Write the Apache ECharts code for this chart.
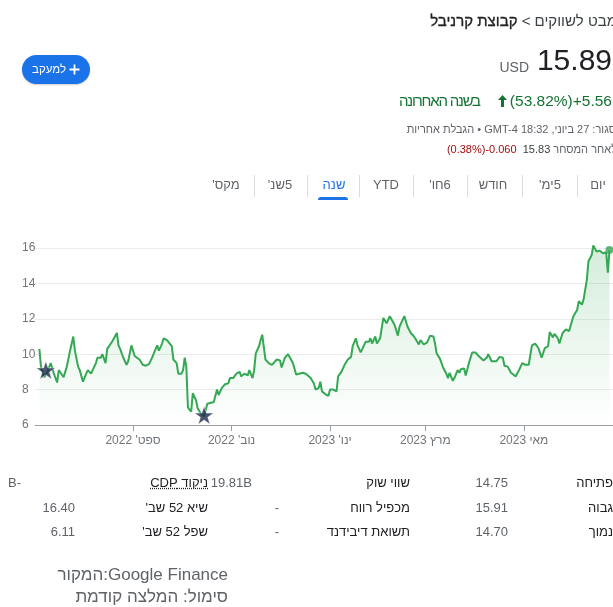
<!DOCTYPE html>
<html lang="he">
<head>
<meta charset="utf-8">
<script src="https://cdn.jsdelivr.net/npm/echarts@6/dist/echarts.min.js"></script>
<style>
html,body{margin:0;padding:0;background:#fff;}
body{width:613px;height:607px;overflow:hidden;position:relative;font-family:Arial,"Liberation Sans",sans-serif;}
#chart{position:absolute;left:0;top:0;width:613px;height:607px;}
.t{position:absolute;white-space:nowrap;}
.rtl{direction:rtl;}
.ltr{direction:ltr;}
.sep{position:absolute;top:175px;width:1px;height:22px;background:#dadce0;}
.tab{position:absolute;top:177px;width:80px;text-align:center;font-size:13px;line-height:16px;color:#5f6368;direction:rtl;white-space:nowrap;}
.lab{position:absolute;font-size:13px;line-height:20px;height:20px;color:#202124;direction:rtl;white-space:nowrap;}
.val{position:absolute;font-size:13px;line-height:20px;height:20px;color:#5f6368;direction:ltr;white-space:nowrap;}
</style>
</head>
<body>
<div id="chart"></div>

<!-- header -->
<div class="t rtl" style="right:-4px;top:12px;font-size:15px;line-height:18px;color:#3c4043">מבט לשווקים &gt; <span style="color:#202124;-webkit-text-stroke:0.3px #202124">קבוצת קרניבל</span></div>

<div style="position:absolute;left:22px;top:55px;width:68px;height:29px;border-radius:15px;background:#1a73e8;box-shadow:0 1px 2px rgba(0,0,0,0.2);">
  <span class="t" style="left:10px;top:7px;font-size:11.5px;line-height:14px;color:#fff;direction:rtl">למעקב</span>
  <svg style="position:absolute;left:47px;top:9px" width="11" height="11" viewBox="0 0 11 11"><path d="M5.5 0.5V10.5M0.5 5.5H10.5" stroke="#fff" stroke-width="1.8"/></svg>
</div>

<div class="t" style="right:1px;top:45px;font-size:30px;line-height:30px;color:#202124">15.89</div>
<div class="t" style="right:84px;top:60px;font-size:14px;line-height:14px;color:#5f6368">USD</div>

<div class="t ltr" style="right:1px;top:93px;font-size:15.5px;line-height:16px;color:#137333;display:flex;align-items:center">
  <span style="direction:rtl;font-size:15px;letter-spacing:-1.2px">בשנה האחרונה</span>
  <svg style="margin-left:18px;margin-right:3px" width="9" height="12" viewBox="0 0 9 12"><path d="M4.5 0L9 5H6V12H3V5H0Z" fill="#137333"/></svg>
  <span>(53.82%)</span><span>+5.56</span>
</div>

<div class="t rtl" style="right:-3px;top:124px;font-size:11px;line-height:11px;color:#5f6368">סגור: 27 ביוני, 18:32 GMT-4 • הגבלת אחריות</div>

<div class="t ltr" style="right:-4px;top:144px;font-size:11px;line-height:11px;color:#5f6368">
  <span style="color:#a50e0e">(0.38%)-0.060</span>&nbsp;&nbsp;<span style="color:#3c4043">15.83</span>&nbsp;<span style="direction:rtl">לאחר המסחר</span>
</div>

<!-- tabs -->
<div class="tab" style="left:186px">מקס'</div>
<div class="sep" style="left:254px"></div>
<div class="tab" style="left:240px">5שנ'</div>
<div class="sep" style="left:307px"></div>
<div class="tab" style="left:294px;color:#1a73e8">שנה</div>
<div class="sep" style="left:359px"></div>
<div class="tab" style="left:346px;direction:ltr">YTD</div>
<div class="sep" style="left:413px"></div>
<div class="tab" style="left:400px">6חו'</div>
<div class="sep" style="left:467px"></div>
<div class="tab" style="left:453px">חודש</div>
<div class="sep" style="left:522px"></div>
<div class="tab" style="left:510px">5ימ'</div>
<div class="sep" style="left:577px"></div>
<div class="tab" style="left:558px">יום</div>
<div style="position:absolute;left:318px;top:197px;width:30px;height:3px;background:#1a73e8;border-radius:3px 3px 0 0"></div>

<!-- stats table -->
<div class="lab" style="right:0px;top:473px">פתיחה</div>
<div class="val" style="right:105px;top:473px">14.75</div>
<div class="lab" style="right:203px;top:473px">שווי שוק</div>
<div class="val" style="right:361px;top:473px">19.81B</div>
<div class="lab" style="right:405px;top:473px;text-decoration:underline dotted">ניקוד CDP</div>
<div class="val" style="left:8px;top:473px">B-</div>

<div class="lab" style="right:0px;top:498px">גבוה</div>
<div class="val" style="right:105px;top:498px">15.91</div>
<div class="lab" style="right:203px;top:498px">מכפיל רווח</div>
<div class="val" style="right:334px;top:498px">-</div>
<div class="lab" style="right:405px;top:498px">שיא 52 שב'</div>
<div class="val" style="right:538px;top:498px">16.40</div>

<div class="lab" style="right:0px;top:522px">נמוך</div>
<div class="val" style="right:105px;top:522px">14.70</div>
<div class="lab" style="right:203px;top:522px">תשואת דיבידנד</div>
<div class="val" style="right:334px;top:522px">-</div>
<div class="lab" style="right:405px;top:522px">שפל 52 שב'</div>
<div class="val" style="right:538px;top:522px">6.11</div>

<!-- footer -->
<div class="t ltr" style="right:385px;top:565px;font-size:17px;line-height:20px;color:#5f6368">המקור:Google Finance</div>
<div class="t ltr" style="right:385px;top:587px;font-size:17px;line-height:20px;color:#5f6368">סימול: המלצה קודמת</div>

<script>
// Day offsets are counted from 2022-09-01 (day 0)
const days = [-58,-57,-55,-53,-51,-49,-47,-46,-43,-41,-39,-37,-36,-34,-33,-31,-29,-28,-26,-23,-22,-20,-19,-17,-16,-13,-12,-10,-9,-8,-6,-4,-3,-1,
  1,2,4,6,8,10,12,14,15,16,18,19,21,22,24,25,27,28,30,31,32,33,34,36,37,39,40,42,44,46,47,50,52,53,55,57,59,60,62,64,66,67,69,71,72,74,75,76,78,79,80,
  82,84,86,87,89,91,92,94,96,97,99,101,103,105,107,110,112,113,115,116,117,119,121,122,124,126,127,129,131,133,135,136,138,139,141,143,144,146,147,148,
  150,151,153,155,157,158,159,162,164,165,167,168,170,172,174,175,177,178,180,182,184,186,187,188,190,192,194,195,196,198,199,201,202,203,205,206,208,
  210,212,214,217,219,220,222,223,225,227,229,230,232,234,237,239,241,243,245,247,249,251,253,255,257,258,260,261,263,264,266,268,270,272,273,275,276,
  278,279,281,282,284,285,287,289,291,293,294,295];
const prices = [10.3,9.3,8.7,9.0,9.5,8.9,8.4,9.1,8.7,9.3,10.2,11.0,10.2,9.3,9.1,8.45,8.9,9.1,8.9,9.5,9.8,9.8,10.0,9.5,10.3,10.7,10.7,11.2,10.5,10.3,9.8,9.4,9.6,10.5,
  9.9,9.8,9.7,9.4,9.35,9.45,9.85,10.3,10.5,10.2,10.6,10.9,10.8,10.8,10.45,9.7,9.5,8.9,8.9,9.1,9.8,9.3,7.0,6.75,7.8,7.4,6.95,6.65,6.5,7.2,7.1,7.3,8.0,7.7,8.1,8.3,8.35,8.65,8.65,8.9,9.0,8.75,8.9,8.8,9.1,8.65,9.1,10.05,10.45,10.8,11.1,
  9.7,9.5,9.4,9.5,9.7,9.65,9.25,9.8,10.0,10.0,9.5,8.85,8.9,8.95,8.9,8.65,8.35,8.0,8.1,8.45,7.9,7.75,7.65,8.0,8.0,7.9,8.75,9.0,9.4,9.7,9.85,10.45,10.9,10.5,10.1,10.5,10.7,10.7,10.9,10.6,
  11.0,10.6,10.9,12.05,11.75,11.85,12.15,11.65,11.05,11.55,11.95,12.15,11.55,11.2,11.0,10.9,10.55,10.8,10.55,10.65,11.05,11.0,10.6,10.05,9.75,9.25,8.9,8.65,8.95,8.5,8.65,9.1,8.95,9.15,9.2,8.8,9.5,
  10.1,10.1,9.9,9.65,9.8,10.0,9.6,9.7,9.6,9.85,9.8,9.35,9.3,8.95,8.75,9.1,9.5,9.4,9.4,10.5,10.6,10.35,9.8,10.35,10.45,11.25,10.95,11.15,10.9,10.6,11.2,11.4,11.3,11.95,12.2,12.5,13.0,
  12.8,13.1,14.2,15.25,15.6,16.15,15.8,15.85,15.7,15.75,14.6,15.89];
const tickDays = [0, 61, 122, 181, 242];
const tickLabels = ["ספט' 2022", "נוב' 2022", "ינו' 2023", "מרץ 2023", "מאי 2023"];
const starDays = [-54, 44];
const starPrices = [9.1, 6.55];

const STAR = 'path://M50,0 L61.8,35.3 L98.9,35.3 L68.9,57.2 L80.3,92.7 L50,70.8 L19.7,92.7 L31.1,57.2 L1.1,35.3 L38.2,35.3 Z';
const chart = echarts.init(document.getElementById('chart'), null, {renderer: 'canvas'});
const lineData = days.map((d, i) => [d, prices[i]]);
const last = lineData[lineData.length - 1];

chart.setOption({
  animation: false,
  textStyle: {fontFamily: 'Arial, "Liberation Sans", sans-serif'},
  grid: {left: 35, right: 0, top: 248, bottom: 182},
  xAxis: {
    type: 'value', min: -60.7, max: 297.2,
    splitLine: {show: false},
    axisLine: {show: true, onZero: false, lineStyle: {color: '#9aa0a6', width: 1}},
    axisTick: {show: true, customValues: tickDays, length: 6, lineStyle: {color: '#9aa0a6'}},
    axisLabel: {
      customValues: tickDays, color: '#70757a', fontSize: 12, margin: 10,
      formatter: v => { const i = tickDays.indexOf(v); return i < 0 ? '' : '\u202B' + tickLabels[i] + '\u202C'; }
    }
  },
  yAxis: {
    type: 'value', min: 6, max: 16, interval: 2,
    axisLine: {show: false}, axisTick: {show: false},
    splitLine: {lineStyle: {color: '#ececec', width: 1}},
    axisLabel: {align: 'left', margin: 13, color: '#70757a', fontSize: 12}
  },
  series: [
    {
      type: 'line', data: lineData, showSymbol: false, clip: false, z: 3,
      lineStyle: {color: '#34a853', width: 2},
      areaStyle: {
        color: new echarts.graphic.LinearGradient(0, 0, 0, 1, [
          {offset: 0, color: 'rgba(52,168,83,0.30)'},
          {offset: 1, color: 'rgba(52,168,83,0.0)'}
        ])
      }
    },
    {
      type: 'scatter', data: [last], symbolSize: 8, z: 4,
      itemStyle: {color: '#34a853'}
    },
    {
      type: 'scatter', data: starDays.map((d, i) => [d, starPrices[i]]),
      symbol: STAR, symbolSize: [19, 18], z: 5,
      itemStyle: {color: '#1d2b4c', borderColor: '#ffffff', borderWidth: 0.6}
    }
  ]
});
</script>
</body>
</html>
